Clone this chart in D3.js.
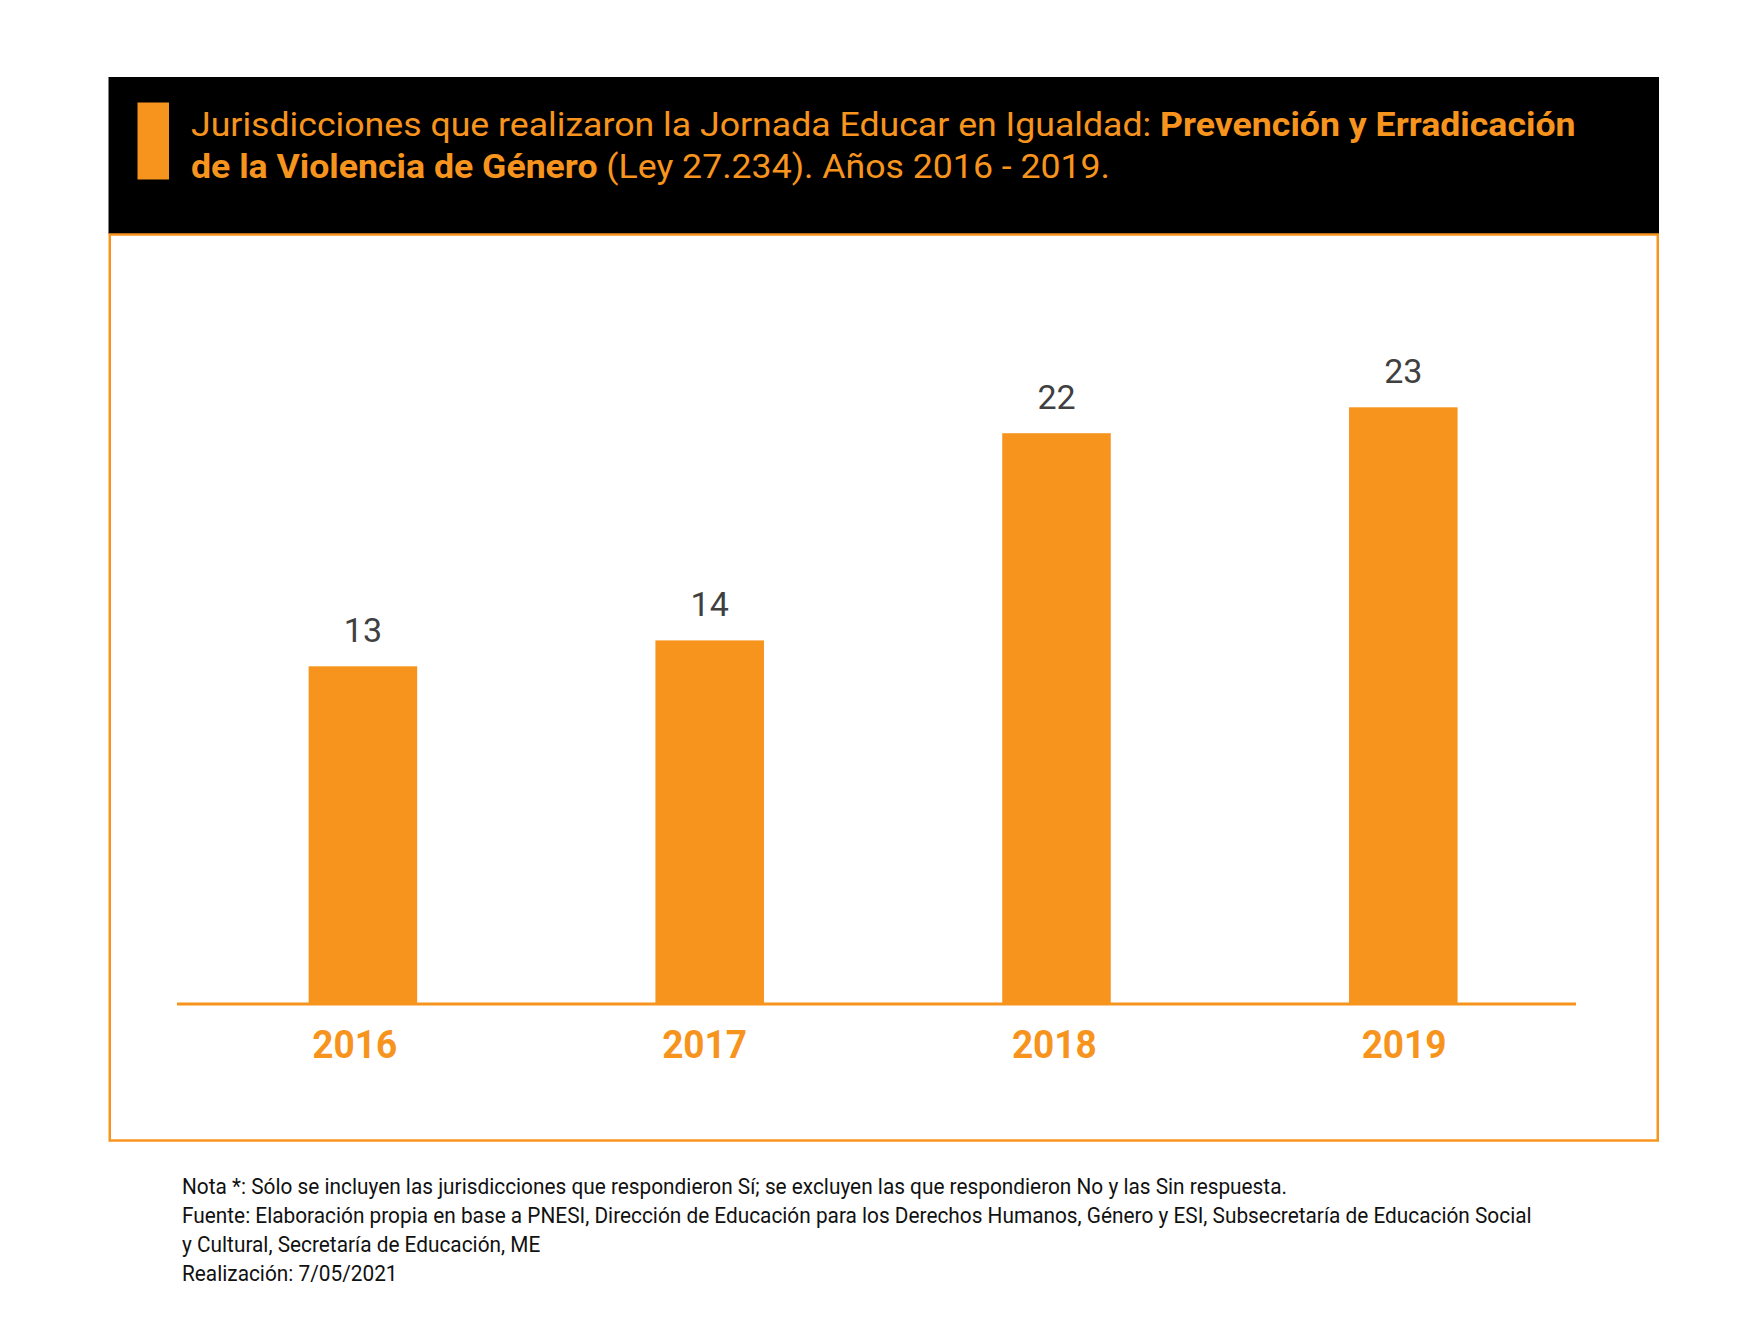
<!DOCTYPE html>
<html>
<head>
<meta charset="utf-8">
<script src="https://cdn.jsdelivr.net/npm/d3@7"></script>
<style>
  html, body { margin: 0; padding: 0; background: #ffffff; }
  svg { display: block; font-family: Roboto, "Noto Sans", sans-serif; }
</style>
</head>
<body>
<script>
// ---- data ----
const years = ["2016", "2017", "2018", "2019"];
const values = [13, 14, 22, 23];
const titleLine1 = [
  { text: "Jurisdicciones que realizaron la Jornada Educar en Igualdad: ", bold: false },
  { text: "Prevención y Erradicación", bold: true }
];
const titleLine2 = [
  { text: "de la Violencia de Género", bold: true },
  { text: " (Ley 27.234). Años 2016 - 2019.", bold: false }
];
const footerLines = [
  "Nota *: Sólo se incluyen las jurisdicciones que respondieron Sí; se excluyen las que respondieron No y las Sin respuesta.",
  "Fuente: Elaboración propia en base a PNESI, Dirección de Educación para los Derechos Humanos, Género y ESI, Subsecretaría de Educación Social",
  "y Cultural, Secretaría de Educación, ME",
  "Realización: 7/05/2021"
];

// ---- styles ----
const W = 1754, H = 1332;
const ORANGE = "#F7941D";
const DARK = "#404040";

const svg = d3.select("body").append("svg").attr("width", W).attr("height", H);
svg.append("rect").attr("width", W).attr("height", H).attr("fill", "#fff");

// header
svg.append("rect").attr("x", 108.5).attr("y", 77).attr("width", 1550.5).attr("height", 157).attr("fill", "#000");
svg.append("rect").attr("x", 137.5).attr("y", 102.5).attr("width", 31.5).attr("height", 77).attr("fill", ORANGE);

function drawLine(parts, x, y, size, targetW, color) {
  const g = svg.append("g").attr("transform", `translate(${x},${y})`);
  const t = g.append("text").attr("x", 0).attr("y", 0).attr("font-size", size).attr("fill", color);
  parts.forEach(p => {
    t.append("tspan").attr("font-weight", p.bold ? 700 : 400).text(p.text);
  });
  const w = t.node().getComputedTextLength();
  const sx = targetW / w;
  g.attr("transform", `translate(${x},${y}) scale(${sx},1)`);
  return sx;
}
drawLine(titleLine1, 191, 135.5, 33, 1385, ORANGE);
drawLine(titleLine2, 191, 178, 33, 919, ORANGE);

// frame
svg.append("rect").attr("x", 109.75).attr("y", 234.5).attr("width", 1548).attr("height", 906)
  .attr("fill", "none").attr("stroke", ORANGE).attr("stroke-width", 2.5);

// scales
const xBar = d3.scaleBand().domain(years).range([189.5, 1576.7]).paddingInner(0.687).paddingOuter(0.3435);
const xLab = d3.scaleBand().domain(years).range([180, 1579]);
const y = d3.scaleLinear().domain([0, 25]).range([1003, 1003 - 25 * 25.9]);

const data = years.map((yr, i) => ({ year: yr, value: values[i] }));

svg.append("g").selectAll("rect").data(data).join("rect")
  .attr("x", d => xBar(d.year))
  .attr("y", d => y(d.value))
  .attr("width", xBar.bandwidth())
  .attr("height", d => y(0) - y(d.value))
  .attr("fill", ORANGE);

svg.append("g").selectAll("text").data(data).join("text")
  .attr("x", d => xBar(d.year) + xBar.bandwidth() / 2)
  .attr("y", d => y(d.value) - 24)
  .attr("text-anchor", "middle")
  .attr("font-size", 34)
  .attr("fill", DARK)
  .text(d => d.value);

// axis
const axis = d3.axisBottom(xLab).tickSize(0).tickPadding(0);
const ax = svg.append("g").attr("transform", `translate(0,${1004})`).call(axis);
ax.select(".domain").attr("d", `M177,0H1576`).attr("stroke", ORANGE).attr("stroke-width", 3);
ax.selectAll(".tick text")
  .attr("y", 54)
  .attr("dy", 0)
  .attr("font-size", 39)
  .attr("font-weight", 700)
  .attr("font-family", "Roboto, sans-serif")
  .attr("fill", ORANGE)
  .attr("textLength", 85)
  .attr("lengthAdjust", "spacingAndGlyphs");

// footer
const fg = svg.append("g");
const ft = footerLines.map((l, i) => fg.append("text")
  .attr("x", 0).attr("y", 0)
  .attr("font-size", 21.5).attr("fill", "#111")
  .attr("transform", `translate(182,${1193.6 + i * 29.1})`)
  .text(l));
const sxF = 1350 / ft[1].node().getComputedTextLength();
ft.forEach((t, i) => t.attr("transform", `translate(182,${1193.6 + i * 29.1}) scale(${sxF},1)`));
</script>
</body>
</html>
